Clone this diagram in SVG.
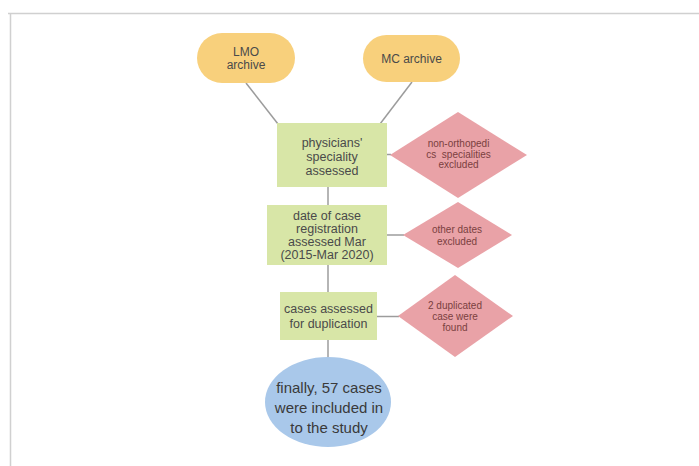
<svg xmlns="http://www.w3.org/2000/svg" width="699" height="466" viewBox="0 0 699 466">
<defs>
<style>
.src{fill:#f8d07c}
.box{fill:#d8e6a7}
.dia{fill:#e9a2a7}
.end{fill:#a9c8ea}
.t{font-family:"Liberation Sans",Arial,sans-serif;font-size:12.5px;fill:#4a4a4a;text-anchor:middle}
.ts{font-family:"Liberation Sans",Arial,sans-serif;font-size:10px;fill:#7a4040;text-anchor:middle}
.te{font-family:"Liberation Sans",Arial,sans-serif;font-size:15px;fill:#3a3a3a;text-anchor:middle}
.c{stroke:#9c9c9c;stroke-width:1.5;fill:none}
</style>
</defs>
<rect width="699" height="466" fill="#ffffff"/>
<path d="M8 13.5H699M10.5 13V466" stroke="#d0d0d0" stroke-width="1.5" fill="none"/>
<g id="connectors" class="c">
<path d="M246 83L278 124"/>
<path d="M412 82L380 124"/>
<path d="M387 154.5H391"/>
<path d="M328 187V206"/>
<path d="M386 235H404"/>
<path d="M328 265V293"/>
<path d="M377 316.5H399"/>
<path d="M328 340V358"/>
</g>
<g id="lmo">
<rect class="src" x="197" y="33" width="98" height="50" rx="25"/>
<text class="t" x="246" y="56" style="font-size:12px">LMO</text>
<text class="t" x="246" y="69" style="font-size:12px">archive</text>
</g>
<g id="mc">
<rect class="src" x="363" y="35" width="97" height="47" rx="23.5"/>
<text class="t" x="411.5" y="62.5" style="font-size:12px">MC archive</text>
</g>
<g id="physicians">
<rect class="box" x="277" y="123" width="110" height="64"/>
<text class="t" x="332" y="147">physicians'</text>
<text class="t" x="332" y="161">speciality</text>
<text class="t" x="332" y="175">assessed</text>
</g>
<g id="excl1">
<polygon class="dia" points="458,112 527,155 458,198 390,155"/>
<text class="ts" x="458.5" y="146.5">non-orthopedi</text>
<text class="ts" x="458.5" y="157.5" xml:space="preserve">cs  specialities</text>
<text class="ts" x="458.5" y="168">excluded</text>
</g>
<g id="date">
<rect class="box" x="267" y="205" width="120" height="60"/>
<text class="t" x="327" y="220">date of case</text>
<text class="t" x="327" y="233">registration</text>
<text class="t" x="327" y="246">assessed Mar</text>
<text class="t" x="327" y="259">(2015-Mar 2020)</text>
</g>
<g id="excl2">
<polygon class="dia" points="458,202 512,235 458,268 403,235"/>
<text class="ts" x="457" y="232.5">other dates</text>
<text class="ts" x="457" y="245">excluded</text>
</g>
<g id="dup">
<rect class="box" x="280" y="292" width="97" height="48"/>
<text class="t" x="328.5" y="312.5">cases assessed</text>
<text class="t" x="328.5" y="327.5">for duplication</text>
</g>
<g id="excl3">
<polygon class="dia" points="455,275 513,316 455,357 398,316"/>
<text class="ts" x="455" y="308.5">2 duplicated</text>
<text class="ts" x="455" y="320">case were</text>
<text class="ts" x="455" y="331">found</text>
</g>
<g id="final">
<ellipse class="end" cx="328" cy="402" rx="63" ry="45"/>
<text class="te" x="329" y="393">finally, 57 cases</text>
<text class="te" x="329" y="413">were included in</text>
<text class="te" x="329" y="433">to the study</text>
</g>
</svg>
